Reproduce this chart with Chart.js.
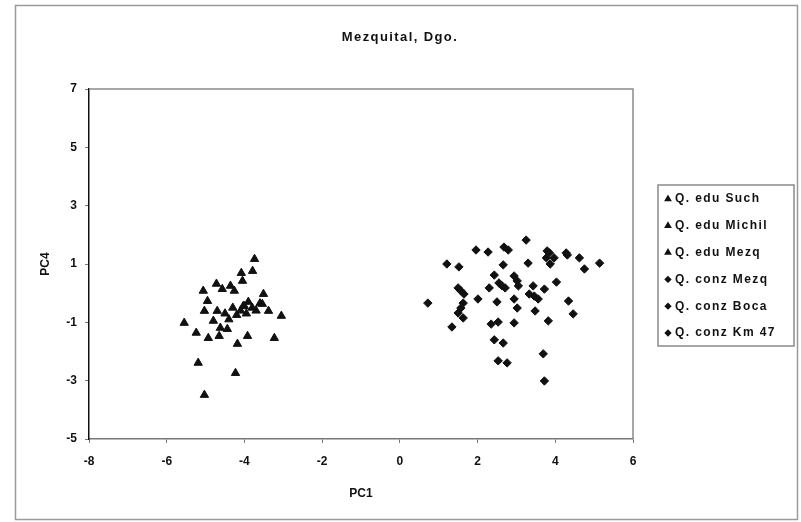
<!DOCTYPE html>
<html>
<head>
<meta charset="utf-8">
<script src="https://cdn.jsdelivr.net/npm/chart.js@4/dist/chart.umd.min.js"></script>
<style>
  html, body { margin: 0; padding: 0; background: #fff; }
  #wrap { width: 801px; height: 522px; }
</style>
</head>
<body>
<div id="wrap"><canvas id="chart" width="801" height="522"></canvas></div>
<script>
// tick labels
const xTicks = [-8, -6, -4, -2, 0, 2, 4, 6];
const yTicks = [-5, -3, -1, 1, 3, 5, 7];

// series labels
const seriesLabels = ['Q. edu Such', 'Q. edu Michil', 'Q. edu Mezq', 'Q. conz Mezq', 'Q. conz Boca', 'Q. conz Km 47'];

// [PC1, PC4]
const eduSuch = [[-3.74,1.17],[-3.79,0.76],[-4.08,0.69],[-4.05,0.42],[-4.72,0.32],[-4.57,0.14],[-4.36,0.25],[-4.26,0.08],[-3.51,-0.03],[-4.0,-0.45]];
const eduMichil = [[-5.06,0.08],[-4.95,-0.27],[-5.03,-0.61],[-4.70,-0.61],[-4.80,-0.95],[-4.62,-1.19],[-4.44,-1.23],[-5.55,-1.02],[-5.24,-1.36],[-4.93,-1.54],[-4.65,-1.47],[-5.19,-2.39],[-5.03,-3.49],[-4.4,-0.9],[-4.5,-0.7]];
const eduMezq = [[-3.54,-0.37],[-3.38,-0.61],[-3.05,-0.78],[-4.03,-0.44],[-3.9,-0.3],[-3.8,-0.5],[-3.7,-0.6],[-4.1,-0.6],[-4.2,-0.75],[-3.95,-0.7],[-4.3,-0.5],[-3.6,-0.35],[-3.92,-1.47],[-4.18,-1.74],[-3.23,-1.54],[-4.23,-2.74]];
const conzMezq = [[3.25,1.82],[1.96,1.48],[2.27,1.41],[2.68,1.58],[2.79,1.48],[1.21,1.0],[1.52,0.90],[2.66,0.97],[2.43,0.62],[2.94,0.59],[3.02,0.42],[3.05,0.25],[2.55,0.35],[2.63,0.25],[2.71,0.18],[2.30,0.18],[2.01,-0.20],[2.50,-0.30]];
const conzBoca = [[3.79,1.45],[3.85,1.38],[4.28,1.38],[4.31,1.31],[4.62,1.21],[5.14,1.03],[3.30,1.03],[3.77,1.21],[3.97,1.21],[3.87,1.0],[4.75,0.83],[4.03,0.38],[3.43,0.25],[3.33,-0.03],[3.46,-0.10],[3.56,-0.20],[3.72,0.14],[4.34,-0.27],[4.46,-0.71],[3.48,-0.61],[3.82,-0.95]];
const conzKm47 = [[1.50,0.18],[1.57,0.08],[1.65,-0.03],[0.72,-0.34],[2.94,-0.20],[3.02,-0.51],[1.63,-0.34],[1.57,-0.51],[1.50,-0.68],[1.63,-0.85],[1.34,-1.16],[2.35,-1.06],[2.53,-0.99],[2.94,-1.02],[2.43,-1.60],[2.66,-1.71],[3.69,-2.08],[2.53,-2.32],[2.76,-2.39],[3.72,-3.01]];

const seriesData = [eduSuch, eduMichil, eduMezq, conzMezq, conzBoca, conzKm47];
const seriesStyles = ['triangle', 'triangle', 'triangle', 'rectRot', 'rectRot', 'rectRot'];

const chartTitle = 'Mezquital, Dgo.';
const FONT = 'Arial, "Liberation Sans", sans-serif';

// outer frame, title, plot area border
const framePlugin = {
  id: 'frame',
  beforeDraw(chart) {
    const ctx = chart.ctx;
    ctx.save();
    ctx.fillStyle = '#fff';
    ctx.fillRect(0, 0, chart.width, chart.height);
    ctx.strokeStyle = '#9a9a9a';
    ctx.lineWidth = 1.5;
    ctx.strokeRect(15.5, 5.5, 782, 514);
    // title is centred on the whole picture, not on the plot
    ctx.font = 'bold 13px ' + FONT;
    ctx.letterSpacing = '1.4px';
    ctx.fillStyle = '#111';
    ctx.textAlign = 'center';
    ctx.textBaseline = 'middle';
    ctx.fillText(chartTitle, 400, 37);
    ctx.restore();
  },
  beforeDatasetsDraw(chart) {
    const { ctx, chartArea: a } = chart;
    ctx.save();
    ctx.strokeStyle = '#8a8a8a';
    ctx.lineWidth = 1.5;
    ctx.beginPath();
    ctx.moveTo(a.left, a.top);
    ctx.lineTo(a.right, a.top);
    ctx.lineTo(a.right, a.bottom);
    ctx.stroke();
    ctx.restore();
  }
};

// legend box on the right
const legendPlugin = {
  id: 'boxLegend',
  afterDraw(chart) {
    const ctx = chart.ctx;
    const left = 658, top = 185, w = 136, h = 161;
    ctx.save();
    ctx.strokeStyle = '#8a8a8a';
    ctx.lineWidth = 1.5;
    ctx.strokeRect(left, top, w, h);
    ctx.font = 'bold 12px ' + FONT;
    ctx.letterSpacing = '1.4px';
    ctx.textBaseline = 'middle';
    chart.data.datasets.forEach((ds, i) => {
      const y = top + 14 + i * 26.8;
      ctx.fillStyle = '#111';
      ctx.strokeStyle = '#111';
      Chart.helpers.drawPoint(ctx, {
        pointStyle: ds.pointStyle,
        radius: ds.pointStyle === 'triangle' ? 3 : 2.6,
        rotation: 0,
        borderWidth: 1
      }, left + 10, y);
      ctx.fillText(ds.label, left + 17, y);
    });
    ctx.restore();
  }
};

new Chart(document.getElementById('chart'), {
  type: 'scatter',
  data: {
    datasets: seriesLabels.map((label, i) => ({
      label: label,
      data: seriesData[i].map(p => ({ x: p[0], y: p[1] })),
      pointStyle: seriesStyles[i],
      pointRadius: seriesStyles[i] === 'triangle' ? 4.8 : 4.2,
      backgroundColor: '#111',
      borderColor: '#111',
      borderWidth: 1
    }))
  },
  options: {
    responsive: false,
    animation: false,
    layout: { padding: { left: 0, right: 168, top: 89, bottom: 0 } },
    plugins: {
      legend: { display: false },
      tooltip: { enabled: false },
      title: { display: false }
    },
    scales: {
      x: {
        type: 'linear',
        min: xTicks[0],
        max: xTicks[xTicks.length - 1],
        afterBuildTicks: s => { s.ticks = xTicks.map(v => ({ value: v })); },
        afterFit: s => { s.height = 83; },
        grid: { drawOnChartArea: false, tickLength: 4, color: '#777' },
        border: { color: '#777', width: 1.5 },
        ticks: { color: '#111', padding: 11, font: { family: FONT, size: 12, weight: 'bold' } },
        title: {
          display: true,
          text: 'PC1',
          color: '#111',
          font: { family: FONT, size: 12, weight: 'bold' },
          padding: { top: 0, bottom: 21 }
        }
      },
      y: {
        type: 'linear',
        min: yTicks[0],
        max: yTicks[yTicks.length - 1],
        afterBuildTicks: s => { s.ticks = yTicks.map(v => ({ value: v })); },
        afterFit: s => { s.width = 89; },
        grid: { drawOnChartArea: false, tickLength: 4, color: '#777' },
        border: { color: '#111', width: 1.5 },
        ticks: { color: '#111', padding: 8, font: { family: FONT, size: 12, weight: 'bold' } },
        title: {
          display: true,
          text: 'PC4',
          color: '#111',
          font: { family: FONT, size: 12, weight: 'bold' },
          padding: { top: 38, bottom: 0 }
        }
      }
    }
  },
  plugins: [framePlugin, legendPlugin]
});
</script>
</body>
</html>
